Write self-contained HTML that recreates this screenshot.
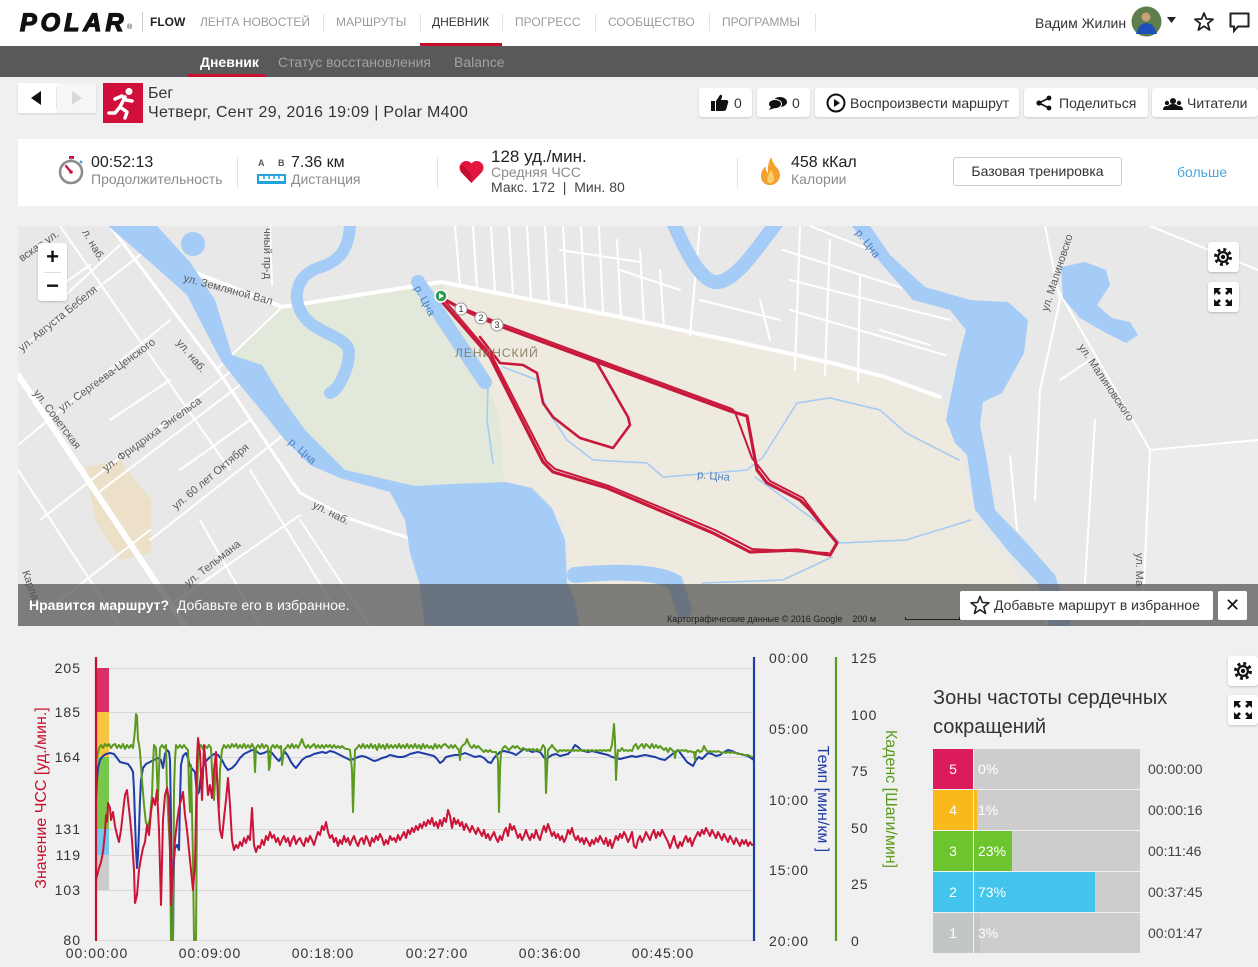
<!DOCTYPE html>
<html><head><meta charset="utf-8"><style>
*{margin:0;padding:0;box-sizing:border-box}
html,body{width:1258px;height:967px;overflow:hidden}
body{background:#f0f0f0;font-family:"Liberation Sans","DejaVu Sans",sans-serif;color:#333;position:relative}
.a{position:absolute}
.t{position:absolute;white-space:nowrap;line-height:20px;height:20px}
.nav{font-size:12px;color:#9b9b9b;top:12px}
.sep{position:absolute;top:14px;width:1px;height:17px;background:#e2e2e2}
.btn{position:absolute;top:88px;height:29px;background:#fff;border-radius:3px;box-shadow:0 1px 2px rgba(0,0,0,.15)}
.g{color:#8c8c8c;font-size:14px}
.zn{position:absolute;left:933px;width:40px;height:40px;color:#fff;font-size:14px;line-height:40px;text-align:center}
.zb{position:absolute;left:974px;width:166px;height:40px;background:#cdcdcd}
.zp{position:absolute;left:978px;color:#fff;font-size:14px;line-height:40px;height:40px}
.zt{position:absolute;left:1148px;color:#444;font-size:14px;line-height:40px;height:40px}
.ctl{position:absolute;background:#fff;border-radius:3px;box-shadow:0 1px 2px rgba(0,0,0,.2)}
</style></head><body>

<!-- top nav -->
<div class="a" style="left:0;top:0;width:1258px;height:46px;background:#fff"></div>
<div class="t" style="left:20px;top:10px;height:26px;line-height:26px;font-size:25px;font-weight:bold;font-style:italic;letter-spacing:4px;color:#111;-webkit-text-stroke:1.3px #111">POLAR</div>
<div class="t" style="left:127px;top:18px;font-size:7px;color:#111">®</div>
<div class="sep" style="left:142px;top:12px;height:20px;background:#ccc"></div>
<div class="t" style="left:150px;top:12px;font-size:12px;font-weight:bold;color:#222">FLOW</div>
<div class="t nav" style="left:200px">ЛЕНТА НОВОСТЕЙ</div>
<div class="sep" style="left:323px"></div>
<div class="t nav" style="left:336px">МАРШРУТЫ</div>
<div class="sep" style="left:420px"></div>
<div class="t nav" style="left:432px;color:#333">ДНЕВНИК</div>
<div class="sep" style="left:502px"></div>
<div class="t nav" style="left:515px">ПРОГРЕСС</div>
<div class="sep" style="left:595px"></div>
<div class="t nav" style="left:608px">СООБЩЕСТВО</div>
<div class="sep" style="left:709px"></div>
<div class="t nav" style="left:722px">ПРОГРАММЫ</div>
<div class="sep" style="left:815px"></div>
<div class="a" style="left:420px;top:43px;width:82px;height:4px;background:#c8102e"></div>

<div class="t" style="left:1035px;top:13px;font-size:14px;color:#333">Вадим Жилин</div>
<svg class="a" style="left:1131px;top:6px" width="31" height="31" viewBox="0 0 31 31">
<circle cx="15.5" cy="15.5" r="15" fill="#5e7f4c"/><circle cx="15" cy="11" r="4.5" fill="#c9a07a"/>
<path d="M5 28 Q8 17 15 17 Q23 17 26 28 Z" fill="#1f4fb8"/></svg>
<svg class="a" style="left:1167px;top:17px" width="10" height="8"><path d="M0 0 L9 0 L4.5 6 Z" fill="#222"/></svg>
<svg class="a" style="left:1194px;top:12px" width="20" height="19" viewBox="0 0 20 19"><path d="M10 1 L12.4 7 L19 7.3 L13.8 11.4 L15.6 18 L10 14.3 L4.4 18 L6.2 11.4 L1 7.3 L7.6 7 Z" fill="none" stroke="#222" stroke-width="1.8" stroke-linejoin="round"/></svg>
<svg class="a" style="left:1229px;top:12px" width="21" height="21" viewBox="0 0 21 21"><path d="M1.5 1.5 H19.5 V14.5 H9 L5 19 V14.5 H1.5 Z" fill="none" stroke="#222" stroke-width="2"/></svg>

<!-- sub nav -->
<div class="a" style="left:0;top:46px;width:1258px;height:31px;background:#58595b"></div>
<div class="t" style="left:200px;top:52px;font-size:14px;font-weight:bold;color:#fff">Дневник</div>
<div class="a" style="left:188px;top:74px;width:77px;height:3px;background:#c8102e"></div>
<div class="t" style="left:278px;top:52px;font-size:14px;color:#a2a2a2">Статус восстановления</div>
<div class="t" style="left:454px;top:52px;font-size:14px;color:#a2a2a2">Balance</div>

<!-- activity header -->
<div class="a" style="left:18px;top:83px;width:78px;height:30px;background:#fff;box-shadow:0 1px 2px rgba(0,0,0,.12)"></div>
<div class="a" style="left:57px;top:83px;width:39px;height:30px;background:#f6f6f6"></div>
<div class="a" style="left:56px;top:87px;width:1px;height:22px;background:#e5e5e5"></div>
<div class="a" style="left:31px;top:91px;width:0;height:0;border-top:7px solid transparent;border-bottom:7px solid transparent;border-right:10px solid #111"></div>
<div class="a" style="left:72px;top:91px;width:0;height:0;border-top:7px solid transparent;border-bottom:7px solid transparent;border-left:10px solid #d8d8d8"></div>
<svg class="a" style="left:103px;top:83px" width="40" height="40" viewBox="0 0 40 40">
<rect width="40" height="40" fill="#d0103a"/>
<g stroke="#fff" stroke-width="3.5" stroke-linecap="round" stroke-linejoin="round" fill="none">
<path d="M22 14 L17 24 L24 29 L22 35"/><path d="M17 24 L12 30 L6 30"/><path d="M12 16 L19 13 L23 17 L29 18"/></g>
<circle cx="26" cy="8.5" r="3.5" fill="#fff"/></svg>
<div class="t" style="left:148px;top:84px;font-size:16px;color:#333">Бег</div>
<div class="t" style="left:148px;top:103px;font-size:16px;color:#333;letter-spacing:0.3px">Четверг, Сент 29, 2016 19:09 | Polar M400</div>

<div class="btn" style="left:699px;width:53px"></div>
<svg class="a" style="left:710px;top:93px" width="19" height="19" viewBox="0 0 19 19"><path d="M1 8 H5 V18 H1 Z M6 8 L10 2 Q12 1 12 4 L11 7 H17 Q19 8 18 10 L16 17 Q15 18 13 18 H6 Z" fill="#111"/></svg>
<div class="t" style="left:734px;top:93px;font-size:14px">0</div>
<div class="btn" style="left:757px;width:53px"></div>
<svg class="a" style="left:768px;top:96px" width="20" height="14" viewBox="0 0 20 14"><ellipse cx="12" cy="6" rx="7" ry="5" fill="#111"/><ellipse cx="7" cy="8" rx="6.5" ry="4.6" fill="#111" stroke="#fff" stroke-width="1"/><path d="M3 11 L1 14 L7 12 Z" fill="#111"/></svg>
<div class="t" style="left:792px;top:93px;font-size:14px">0</div>
<div class="btn" style="left:815px;width:204px"></div>
<svg class="a" style="left:826px;top:93px" width="20" height="20" viewBox="0 0 20 20"><circle cx="10" cy="10" r="8.5" fill="none" stroke="#111" stroke-width="2"/><path d="M8 6 L14 10 L8 14 Z" fill="#111"/></svg>
<div class="t" style="left:850px;top:93px;font-size:14px;color:#333">Воспроизвести маршрут</div>
<div class="btn" style="left:1024px;width:124px"></div>
<svg class="a" style="left:1036px;top:95px" width="16" height="16" viewBox="0 0 16 16"><g stroke="#111" stroke-width="1.6"><line x1="3" y1="8" x2="13" y2="3"/><line x1="3" y1="8" x2="13" y2="13"/></g><circle cx="3" cy="8" r="2.6" fill="#111"/><circle cx="13" cy="3" r="2.4" fill="#111"/><circle cx="13" cy="13" r="2.4" fill="#111"/></svg>
<div class="t" style="left:1059px;top:93px;font-size:14px;color:#333">Поделиться</div>
<div class="btn" style="left:1152px;width:106px"></div>
<svg class="a" style="left:1163px;top:97px" width="20" height="13" viewBox="0 0 20 13"><circle cx="10" cy="4" r="3" fill="#111"/><path d="M4 13 Q4 7 10 7 Q16 7 16 13Z" fill="#111"/><circle cx="4" cy="6" r="2.2" fill="#111"/><path d="M0 13 Q0 9 4 9 Q6 9 6 13Z" fill="#111"/><circle cx="16" cy="6" r="2.2" fill="#111"/><path d="M14 13 Q14 9 16 9 Q20 9 20 13Z" fill="#111"/></svg>
<div class="t" style="left:1187px;top:93px;font-size:14px;color:#333">Читатели</div>

<!-- stats panel -->
<div class="a" style="left:18px;top:139px;width:1240px;height:67px;background:#fff"></div>
<svg class="a" style="left:56px;top:155px" width="30" height="30" viewBox="0 0 30 30">
<rect x="13" y="1" width="5" height="3" fill="#d0103a"/><rect x="14.5" y="3" width="2" height="3" fill="#999"/>
<circle cx="15" cy="17" r="11" fill="#fff" stroke="#8c8c8c" stroke-width="2.6"/>
<line x1="15" y1="17" x2="10" y2="11" stroke="#d0103a" stroke-width="2.2" stroke-linecap="round"/>
<circle cx="15" cy="17" r="1.8" fill="#d0103a"/><line x1="24" y1="6" x2="26" y2="8" stroke="#3aa0d8" stroke-width="2"/></svg>
<div class="t" style="left:91px;top:153px;font-size:16px;color:#222">00:52:13</div>
<div class="t g" style="left:91px;top:169px">Продолжительность</div>
<div class="a" style="left:237px;top:158px;width:1px;height:30px;background:#e3e3e3"></div>
<div class="t" style="left:258px;top:153px;font-size:9px;font-weight:bold;color:#555">A</div>
<div class="t" style="left:278px;top:153px;font-size:9px;font-weight:bold;color:#555">B</div>
<svg class="a" style="left:257px;top:174px" width="29" height="10" viewBox="0 0 29 10"><rect x="0" y="0" width="29" height="10" fill="#23a3dc"/><rect x="2" y="2" width="25" height="5" fill="#fff"/><g stroke="#23a3dc" stroke-width="1.5"><line x1="7" y1="2" x2="7" y2="5"/><line x1="12" y1="2" x2="12" y2="5"/><line x1="17" y1="2" x2="17" y2="5"/><line x1="22" y1="2" x2="22" y2="5"/></g></svg>
<div class="t" style="left:291px;top:153px;font-size:16px;color:#222">7.36 км</div>
<div class="t g" style="left:291px;top:169px">Дистанция</div>
<div class="a" style="left:437px;top:158px;width:1px;height:30px;background:#e3e3e3"></div>
<svg class="a" style="left:458px;top:159px" width="27" height="25" viewBox="0 0 27 25"><path d="M13.5 24 L3 13 A6 6 0 0 1 13.5 4.5 A6 6 0 0 1 24 13 Z" fill="#e3173e"/><path d="M13.5 24 L3 13 A6 6 0 0 1 5 6 L13.5 16 Z" fill="#c40f33"/></svg>
<div class="t" style="left:491px;top:147px;font-size:17px;color:#222">128 уд./мин.</div>
<div class="t g" style="left:491px;top:162px">Средняя ЧСС</div>
<div class="t" style="left:491px;top:177px;font-size:14px;color:#444">Макс. 172 &nbsp;|&nbsp; Мин. 80</div>
<div class="a" style="left:737px;top:158px;width:1px;height:30px;background:#e3e3e3"></div>
<svg class="a" style="left:760px;top:156px" width="21" height="30" viewBox="0 0 21 30"><path d="M11 1 Q13 8 18 13 Q22 19 18 25 Q14 30 8 29 Q1 27 1 20 Q1 14 6 10 Q5 15 8 17 Q7 9 11 1 Z" fill="#f3a12c"/><path d="M11 14 Q14 19 14 23 Q13 28 9 27 Q6 25 8 20 Q9 17 11 14 Z" fill="#fbd06a"/></svg>
<div class="t" style="left:791px;top:153px;font-size:16px;color:#222">458 кКал</div>
<div class="t g" style="left:791px;top:169px">Калории</div>
<div class="a" style="left:953px;top:157px;width:169px;height:29px;border:1px solid #cfcfcf;border-radius:3px;font-size:14px;line-height:27px;text-align:center;color:#333">Базовая тренировка</div>
<div class="t" style="left:1177px;top:162px;font-size:14px;color:#4ba6d9">больше</div>

<!-- map -->
<svg class="a" style="left:18px;top:226px" width="1240" height="400" viewBox="18 226 1240 400" font-family="Liberation Sans, sans-serif">
<rect x="18" y="226" width="1240" height="400" fill="#e8e8e8"/>
<polygon points="229,357 282,307 441,282 470,330 500,420 505,495 450,490 400,490 340,470 290,440 260,400" fill="#e3e9da"/>
<polygon points="441,282 620,317 742,343 832,363 885,377 940,397 955,440 965,470 980,530 1010,560 1040,626 575,626 565,520 505,495 500,420 470,330" fill="#eeeadf"/>
<polygon points="86,467 120,460 151,500 151,553 120,560 95,520" fill="#ede0c8"/>
<polygon points="1150,450 1258,440 1258,626 1140,626" fill="#ececec"/>
<!-- roads -->
<g stroke="#fff" fill="none" stroke-linecap="round">
<path d="M18,375 L185,626" stroke-width="6"/>
<path d="M171,263 L282,307 L441,282 L620,317 L742,343 L832,363 L885,377 L940,397" stroke-width="4"/>
<path d="M110,226 L217,369 L300,493 L350,519 L430,545" stroke-width="3"/>
<g stroke-width="2">
<path d="M18,350 L140,255 M18,445 L170,320 M40,520 L230,372 M95,495 L240,385 M150,540 L290,430 M170,605 L300,515 M60,226 L230,470 M18,470 L120,626 M200,520 L260,626 M250,470 L330,600 M120,245 L60,300 M300,520 L370,626 M217,369 L282,307 M270,226 L272,285 M60,600 L150,530 M110,420 L170,380 M40,300 L90,265 M180,470 L250,420"/>
<path d="M455,226 L460,285 M473,226 L477,288 M491,226 L495,292 M509,226 L513,296 M527,226 L531,299 M545,226 L549,303 M563,226 L567,306 M581,226 L585,310 M599,226 L603,314 M617,240 L621,317 M640,250 L644,322 M660,270 L664,326 M620,270 L680,290 M560,250 L640,262"/>
<path d="M783,250 L940,300 M790,280 L950,320 M790,310 L945,355 M800,226 L795,370 M830,240 L825,375 M860,275 L858,382 M700,300 L780,320 M690,335 L700,226 M760,300 L770,340 M880,330 L930,345 M810,226 L870,250"/>
<path d="M1058,290 L1150,450 L1258,440 M1150,450 L1142,626 M1045,226 L1060,300 L1040,390 L1035,500 M1150,226 L1258,270 M1010,456 L1017,530 M1095,420 L1085,583 M1025,600 L1050,626 M1060,380 L1090,360"/>
</g></g>
<!-- water -->
<g fill="#a5cbf7">
<polygon points="108,226 150,262 187,295 205,330 217,353 222,362 240,385 265,415 285,440 310,465 340,478 390,492 405,520 410,553 420,585 425,630 580,630 575,600 567,583 565,540 552,508 532,488 505,482 480,483 450,484 415,486 380,478 345,470 333,458 305,430 280,395 262,365 232,355 215,300 190,262 157,226"/>
<polygon points="852,226 880,262 913,300 950,310 966,330 958,360 953,385 946,420 955,443 967,455 975,510 1010,553 1038,583 1050,630 1072,630 1055,575 1024,540 995,510 986,455 980,425 983,402 1002,393 1024,353 1028,320 1008,302 970,300 925,287 890,255 870,226"/>
<polygon points="1061,267 1085,262 1106,270 1110,285 1097,305 1112,318 1130,322 1138,335 1126,343 1106,333 1080,318 1063,298"/>
<ellipse cx="193" cy="244" rx="12" ry="12"/>
</g>
<g stroke="#a5cbf7" fill="none" stroke-linecap="round">
<path d="M350,226 C348,252 338,262 318,268 C295,276 292,300 303,315 C315,334 348,336 349,352 C349,372 336,392 330,393" stroke-width="12"/>
<path d="M418,282 L485,382" stroke-width="14"/>
<path d="M673,222 C690,262 705,284 718,282 C736,280 756,250 777,222" stroke-width="14"/>
<path d="M575,575 Q650,568 675,582 L684,610" stroke-width="16"/>
<g stroke-width="1.6"><path d="M488,385 L487,420 L493,463"/><path d="M503,367 L537,380 L547,410 L567,440 L593,460 L647,463 L663,477 L713,473 L747,470 L763,457 L797,403 L830,398 L880,410 L906,433 L959,460"/><path d="M755,477 L791,503 L824,527 L840,543 L906,540 L971,520"/><path d="M832,557 L783,580 L702,583"/></g>
</g>
<!-- route -->
<g fill="none" stroke="#c8193c" stroke-linejoin="round" stroke-linecap="round">
<path stroke-width="3.2" d="M442,298 L462,309 L497,325 L597,362 L730,411 L747,416 L757,470 L767,483 L800,500 L810,510 L837,543 L830,555 L797,550 L750,552 L713,533 L607,488 L553,472 L543,462 L490,357 L443,303"/>
<path stroke-width="2" d="M444,300 L499,323 L599,360 L732,409 L735,412 L752,458 L770,481 L803,498 L835,541 M828,553 L752,549 L715,530 L609,486 L555,469 L546,461 L492,356 L445,301"/>
<path stroke-width="2.6" d="M480,337 L500,363 L523,365 L537,373 L543,403 L553,417 L580,438 L613,448 L630,425 L628,417 L597,363"/>
</g>
<g font-size="9" text-anchor="middle">
<circle cx="461" cy="309" r="6" fill="#fff" stroke="#999"/><text x="461" y="312" fill="#333">1</text>
<circle cx="481" cy="318" r="6" fill="#fff" stroke="#999"/><text x="481" y="321" fill="#333">2</text>
<circle cx="497" cy="325" r="6" fill="#fff" stroke="#999"/><text x="497" y="328" fill="#333">3</text>
</g>
<circle cx="441" cy="296" r="6" fill="#2e9b4e" stroke="#fff" stroke-width="1.5"/><path d="M439,293 L444,296 L439,299 Z" fill="#fff"/>
<!-- labels -->
<g font-size="11" fill="#5a5a5a">
<text transform="translate(22,262) rotate(-35)">вская ул.</text>
<text transform="translate(82,232) rotate(60)">л. наб.</text>
<text transform="translate(183,281) rotate(15)">ул. Земляной Вал</text>
<text transform="translate(264,228) rotate(90)">чный пр-д</text>
<text transform="translate(22,352) rotate(-39)">ул. Августа Бебеля</text>
<text transform="translate(62,412) rotate(-36)">ул. Сергеева-Ценского</text>
<text transform="translate(176,343) rotate(50)">ул. наб.</text>
<text transform="translate(33,393) rotate(53)">ул. Советская</text>
<text transform="translate(106,472) rotate(-36)">ул. Фридриха Энгельса</text>
<text transform="translate(176,510) rotate(-40)">ул. 60 лет Октября</text>
<text transform="translate(312,507) rotate(27)">ул. наб.</text>
<text transform="translate(188,587) rotate(-38)">ул. Тельмана</text>
<text transform="translate(1048,312) rotate(-72)">ул. Малиновско</text>
<text transform="translate(1078,347) rotate(56)">ул. Малиновского</text>
<text transform="translate(1136,553) rotate(90)">ул. Ма</text>
<text transform="translate(22,572) rotate(70)">Карла</text>
</g>
<g font-size="11" fill="#4a7fc1">
<text transform="translate(288,443) rotate(42)">р. Цна</text>
<text transform="translate(414,288) rotate(62)">р. Цна</text>
<text transform="translate(697,478) rotate(5)">р. Цна</text>
<text transform="translate(855,233) rotate(52)">р. Цна</text>
</g>
<text x="455" y="357" font-size="12" fill="#8a8266" letter-spacing="1">ЛЕНИНСКИЙ</text>
</svg>
<!-- map controls -->
<div class="ctl" style="left:38px;top:243px;width:29px;height:58px"></div>
<div class="a" style="left:44px;top:272px;width:17px;height:1px;background:#ddd"></div>
<div class="t" style="left:38px;top:247px;width:29px;text-align:center;font-size:22px;font-weight:bold;color:#111">+</div>
<div class="t" style="left:38px;top:276px;width:29px;text-align:center;font-size:22px;font-weight:bold;color:#111">−</div>
<div class="ctl" style="left:1208px;top:242px;width:31px;height:30px"></div>
<svg class="a" style="left:1213px;top:247px" width="20" height="20" viewBox="0 0 20 20"><circle cx="10" cy="10" r="7.5" fill="none" stroke="#111" stroke-width="3" stroke-dasharray="2.9 3"/><circle cx="10" cy="10" r="6" fill="#111"/><circle cx="10" cy="10" r="3.8" fill="#fff"/><circle cx="10" cy="10" r="2.2" fill="#111"/></svg>
<div class="ctl" style="left:1208px;top:282px;width:31px;height:30px"></div>
<svg class="a" style="left:1213px;top:287px" width="20" height="20" viewBox="0 0 20 20" fill="#111"><path d="M1 1 H8 L5.5 3.5 L8 6 L6 8 L3.5 5.5 L1 8 Z"/><path d="M19 1 V8 L16.5 5.5 L14 8 L12 6 L14.5 3.5 L12 1 Z"/><path d="M1 19 V12 L3.5 14.5 L6 12 L8 14 L5.5 16.5 L8 19 Z"/><path d="M19 19 H12 L14.5 16.5 L12 14 L14 12 L16.5 14.5 L19 12 Z"/></svg>
<!-- overlay -->
<div class="a" style="left:18px;top:584px;width:1240px;height:42px;background:rgba(82,82,82,0.72)"></div>
<div class="t" style="left:29px;top:595px;font-size:14px;color:#fff"><b>Нравится маршрут?</b>&nbsp; Добавьте его в избранное.</div>
<div class="t" style="left:667px;top:609px;font-size:9px;color:#222">Картографические данные © 2016 Google &nbsp;&nbsp; 200 м</div>
<div class="a" style="left:905px;top:617px;width:55px;height:3px;border:1px solid #222;border-top:none"></div>
<div class="a" style="left:960px;top:591px;width:253px;height:29px;background:#fff;border-radius:2px"></div>
<svg class="a" style="left:970px;top:595px" width="20" height="20" viewBox="0 0 20 19"><path d="M10 1 L12.4 7 L19 7.3 L13.8 11.4 L15.6 18 L10 14.3 L4.4 18 L6.2 11.4 L1 7.3 L7.6 7 Z" fill="none" stroke="#222" stroke-width="1.6" stroke-linejoin="round"/></svg>
<div class="t" style="left:994px;top:595px;font-size:14px;color:#333">Добавьте маршрут в избранное</div>
<div class="a" style="left:1218px;top:591px;width:29px;height:29px;background:#fff;border-radius:2px;font-size:18px;font-weight:bold;line-height:29px;text-align:center;color:#111">✕</div>

<!-- chart -->
<svg class="a" style="left:0;top:640px" width="920" height="327" viewBox="0 640 920 327" font-family="Liberation Sans, sans-serif">
<g stroke="#d8d8d8" stroke-width="1">
<line x1="96" y1="668.5" x2="754" y2="668.5"/><line x1="96" y1="712.5" x2="754" y2="712.5"/><line x1="96" y1="757.5" x2="754" y2="757.5"/><line x1="96" y1="829.5" x2="754" y2="829.5"/><line x1="96" y1="855.5" x2="754" y2="855.5"/><line x1="96" y1="890.5" x2="754" y2="890.5"/><line x1="96" y1="940.5" x2="754" y2="940.5"/>
</g>
<rect x="97" y="668" width="12" height="44" fill="#d93167"/>
<rect x="97" y="712" width="12" height="45" fill="#f7c542"/>
<rect x="97" y="757" width="12" height="72" fill="#77c84a"/>
<rect x="97" y="829" width="12" height="26" fill="#72c8ee"/>
<rect x="97" y="855" width="12" height="35" fill="#cbcbcb"/>
<g fill="none" stroke-width="2" stroke-linejoin="round">
<polyline stroke="#1f3da6" points="96,800 97,780 98,768 100,760 103,756 106,754 110,753 114,754 117,758 120,762 124,763 128,764 131,768 133,772 134,790 135,820 136,850 137,868 138,855 139,830 140,800 141,780 143,768 146,764 150,762 154,760 158,758 161,760 163,768 165,754 167,750 169,752 170,760 171,820 172,940 173,940 174,860 175,848 177,845 179,850 180,800 181,765 183,756 186,753 188,758 190,766 193,770 195,772 197,795 199,792 201,775 204,764 207,760 210,757 214,754 218,755 222,760 225,766 228,770 232,768 236,764 240,758 244,754 248,752 252,750 256,751 260,754 264,753 268,751 272,753 276,758 279,761 282,756 285,752 288,756 291,762 294,766 296,768 299,764 302,760 306,757 310,756 314,754 318,753 322,752 326,753 330,751 334,752 338,754 342,756 346,758 350,760 354,759 358,757 362,756 366,757 370,759 374,761 378,760 382,758 386,757 390,755 394,756 398,757 402,757 406,756 410,754 414,753 418,752 422,753 426,754 430,755 434,756 437,759 440,763 443,761 446,757 450,756 455,755 460,755 465,753 470,755 475,757 480,756 484,758 488,762 491,763 494,758 497,755 500,752 504,751 508,752 512,753 516,755 520,752 524,749 528,750 532,752 536,751 540,752 543,756 546,760 549,757 552,755 556,754 560,756 564,755 568,754 572,750 575,745 578,747 581,750 584,751 588,752 592,751 596,752 600,753 604,754 608,755 612,757 616,758 620,759 624,758 628,757 632,756 636,757 640,756 645,755 650,756 655,757 660,759 665,760 670,756 675,752 678,750 681,754 684,758 687,762 690,764 693,766 696,760 699,757 702,759 705,756 708,753 712,754 716,756 720,755 724,752 728,750 732,751 736,753 740,754 744,755 748,756 751,758 754,760"/>
<polyline stroke="#5b9a1f" points="97,758 99,748 101,745 103,748 105,744 107,746 109,744 111,748 113,745 115,744 117,748 119,745 121,748 123,744 125,749 127,745 129,748 131,745 133,748 135,730 136,714 137,716 138,740 139,744 140,752 142,780 144,805 146,823 148,826 150,818 152,795 153,765 154,745 156,748 158,800 159,770 160,748 162,745 164,748 166,745 167,790 168,812 170,850 171,940 173,940 174,790 175,760 176,745 178,748 180,745 182,748 184,745 186,748 188,750 189,790 190,812 191,765 193,860 194,940 196,940 197,800 198,760 199,748 201,745 203,749 205,746 207,748 209,745 211,748 212,770 214,800 216,765 218,790 219,808 220,770 222,750 224,745 226,748 228,745 230,748 232,744 234,747 236,744 238,748 240,745 242,748 244,744 246,748 248,745 250,748 252,744 254,748 255,772 256,748 258,745 260,748 262,744 264,748 266,745 268,747 269,770 270,765 271,748 273,745 275,748 277,745 279,748 281,746 282,765 284,750 286,748 288,745 290,748 292,744 294,748 296,745 298,748 300,744 302,739 304,745 306,748 308,745 310,748 312,746 314,744 316,748 318,745 320,748 322,745 324,748 326,745 328,747 330,745 332,748 334,745 336,748 338,746 340,748 342,746 344,748 346,749 348,749 350,750 352,770 353,812 354,780 355,750 357,748 359,745 361,748 363,744 365,748 367,745 369,748 371,744 373,748 375,745 377,750 379,744 381,748 383,745 385,749 387,744 389,748 391,745 393,748 395,745 397,748 399,744 401,748 403,745 405,748 407,744 409,748 411,745 413,748 415,744 417,748 419,745 421,749 423,744 425,748 427,745 429,748 431,746 433,749 435,744 437,748 439,745 441,748 443,745 445,744 447,746 449,748 451,745 453,748 455,745 457,748 459,750 460,760 461,748 463,745 465,744 467,739 468,742 470,746 472,748 474,745 476,748 478,746 480,748 482,750 484,752 486,750 488,752 490,750 492,752 494,752 496,752 498,760 499,812 500,770 501,752 503,748 505,746 507,748 509,750 511,748 513,746 515,748 517,746 519,748 521,750 523,748 525,749 527,751 529,749 531,750 533,749 535,751 537,749 539,751 541,750 543,745 545,748 546,793 547,770 548,750 550,748 552,745 554,748 556,750 558,752 560,750 562,751 564,750 566,751 568,750 570,751 572,750 574,751 576,750 578,751 580,750 582,751 584,750 586,751 588,750 590,751 592,750 594,751 596,750 598,751 600,750 602,751 604,750 606,751 608,750 610,751 612,745 613,735 614,724 615,740 616,780 617,760 618,750 620,751 622,748 624,751 626,750 628,751 630,750 632,751 634,746 636,744 638,749 640,746 642,744 644,748 646,744 648,746 650,748 652,744 654,748 656,745 658,748 660,746 662,748 664,750 666,748 668,752 670,748 672,750 674,752 675,758 676,752 678,750 680,751 682,750 684,751 686,750 688,752 690,751 692,752 694,752 695,760 696,752 698,750 700,752 702,751 704,746 706,750 708,752 710,751 712,752 714,751 716,752 718,751 720,752 722,753 724,752 726,753 728,752 730,753 732,752 734,753 736,753 738,754 740,754 742,754 744,755 746,755 748,755 750,756 752,757 754,757"/>
<polyline stroke="#cc1438" points="96,880 99,868 101,862 103,852 105,832 106,815 107,822 108,803 110,808 111,820 113,812 115,826 117,835 119,842 121,830 123,812 125,795 127,790 128,800 130,818 132,840 134,870 135,903 137,895 139,870 141,858 143,848 145,842 147,825 149,835 151,812 153,798 155,805 157,790 159,830 161,905 163,820 165,795 167,788 169,800 171,905 173,870 175,840 177,822 179,808 181,800 183,792 185,815 187,830 189,850 191,870 193,890 195,865 197,760 198,738 200,752 202,800 204,745 206,768 208,795 210,785 212,798 214,770 216,752 218,800 220,830 222,838 224,818 226,800 228,778 230,805 232,840 234,850 236,845 238,848 240,842 242,846 244,838 246,843 248,836 250,840 252,808 254,845 256,852 258,846 260,848 262,840 264,845 266,836 268,840 270,832 272,838 274,835 276,842 278,838 280,845 282,840 284,836 286,842 288,838 290,846 292,840 294,836 296,844 298,840 300,838 302,843 304,846 306,838 308,842 310,836 312,840 314,845 316,838 318,832 320,835 322,826 324,830 326,822 328,832 330,838 332,835 334,842 336,838 338,846 340,840 342,844 344,836 346,842 348,838 350,845 352,840 354,836 356,842 358,846 360,840 362,838 364,844 366,836 368,840 370,846 372,838 374,842 376,836 378,840 380,834 382,838 384,845 386,840 388,844 390,836 392,840 394,838 396,842 398,835 400,840 402,836 404,832 406,838 408,830 410,834 412,828 414,832 416,826 418,830 420,824 422,828 424,822 426,826 428,820 430,824 432,818 434,826 436,822 438,828 440,820 442,826 444,818 446,822 448,810 450,816 452,828 454,818 456,824 458,820 460,826 462,822 464,830 466,824 468,828 470,832 472,826 474,830 476,834 478,828 480,832 482,836 484,830 486,838 488,834 490,840 492,836 494,832 496,838 498,842 500,836 502,840 504,832 506,828 508,836 510,824 512,830 514,826 516,832 518,838 520,834 522,840 524,836 526,830 528,836 530,840 532,834 534,838 536,830 538,836 540,840 542,832 544,826 546,832 548,824 550,830 552,836 554,832 556,838 558,834 560,840 562,836 564,842 566,838 568,830 570,834 572,828 574,836 576,840 578,836 580,842 582,838 584,844 586,838 588,842 590,846 592,840 594,844 596,838 598,842 600,836 602,840 604,844 606,838 608,846 610,840 612,848 614,842 616,836 618,840 620,834 622,838 624,832 626,836 628,842 630,838 632,832 634,846 636,848 638,840 640,836 642,842 644,838 646,832 648,836 650,840 652,834 654,830 656,838 658,832 660,836 662,830 664,834 666,838 668,842 670,848 672,842 674,836 676,844 678,848 680,842 682,846 684,840 686,836 688,842 690,838 692,846 694,840 696,836 698,832 700,836 702,830 704,834 706,828 708,832 710,836 712,830 714,834 716,838 718,832 720,836 722,840 724,834 726,838 728,842 730,836 732,840 734,844 736,838 738,842 740,846 742,840 744,844 746,840 748,846 750,842 752,845 754,844"/>
</g>
<line x1="96" y1="657" x2="96" y2="941" stroke="#c8102e" stroke-width="2.2"/>
<line x1="754" y1="657" x2="754" y2="941" stroke="#1f3da6" stroke-width="2.2"/>
<line x1="836" y1="657" x2="836" y2="941" stroke="#5b9a1f" stroke-width="2.2"/>
<g font-size="14" fill="#333" letter-spacing="1" text-anchor="end">
<text x="81" y="673">205</text><text x="81" y="717">185</text><text x="81" y="762">164</text><text x="81" y="834">131</text><text x="81" y="860">119</text><text x="81" y="895">103</text><text x="81" y="945">80</text>
</g>
<g font-size="14" fill="#333" letter-spacing="1" text-anchor="middle">
<text x="97" y="958">00:00:00</text><text x="210" y="958">00:09:00</text><text x="323" y="958">00:18:00</text><text x="437" y="958">00:27:00</text><text x="550" y="958">00:36:00</text><text x="663" y="958">00:45:00</text>
</g>
<g font-size="14" fill="#333" letter-spacing="1">
<text x="769" y="663">00:00</text><text x="769" y="734">05:00</text><text x="769" y="805">10:00</text><text x="769" y="875">15:00</text><text x="769" y="946">20:00</text>
<text x="851" y="663">125</text><text x="851" y="720">100</text><text x="851" y="776">75</text><text x="851" y="833">50</text><text x="851" y="889">25</text><text x="851" y="946">0</text>
</g>
<text transform="translate(46,798) rotate(-90)" text-anchor="middle" font-size="16" fill="#c8102e">Значение ЧСС [уд./мин.]</text>
<text transform="translate(818,799) rotate(90)" text-anchor="middle" font-size="16" fill="#1f3da6">Темп [мин/км ]</text>
<text transform="translate(886,799) rotate(90)" text-anchor="middle" font-size="16" fill="#5b9a1f">Каденс [Шаги/мин]</text>
</svg>

<!-- chart controls -->
<div class="ctl" style="left:1228px;top:656px;width:30px;height:30px"></div>
<svg class="a" style="left:1233px;top:661px" width="20" height="20" viewBox="0 0 20 20"><circle cx="10" cy="10" r="7.5" fill="none" stroke="#111" stroke-width="3" stroke-dasharray="2.9 3"/><circle cx="10" cy="10" r="6" fill="#111"/><circle cx="10" cy="10" r="3.8" fill="#fff"/><circle cx="10" cy="10" r="2.2" fill="#111"/></svg>
<div class="ctl" style="left:1228px;top:695px;width:30px;height:30px"></div>
<svg class="a" style="left:1233px;top:700px" width="20" height="20" viewBox="0 0 20 20" fill="#111"><path d="M1 1 H8 L5.5 3.5 L8 6 L6 8 L3.5 5.5 L1 8 Z"/><path d="M19 1 V8 L16.5 5.5 L14 8 L12 6 L14.5 3.5 L12 1 Z"/><path d="M1 19 V12 L3.5 14.5 L6 12 L8 14 L5.5 16.5 L8 19 Z"/><path d="M19 19 H12 L14.5 16.5 L12 14 L14 12 L16.5 14.5 L19 12 Z"/></svg>

<!-- HR zones -->
<div class="a" style="left:933px;top:684px;font-size:20px;line-height:29px;color:#333;white-space:nowrap">Зоны частоты сердечных<br>сокращений</div>
<div class="zn" style="top:749px;background:#dc1a5e">5</div><div class="zb" style="top:749px"></div><div class="zp" style="top:749px">0%</div><div class="zt" style="top:749px">00:00:00</div>
<div class="zn" style="top:790px;background:#f9b91c">4</div><div class="zb" style="top:790px"></div><div class="a" style="left:974px;top:790px;width:3px;height:40px;background:#f9b91c"></div><div class="zp" style="top:790px">1%</div><div class="zt" style="top:790px">00:00:16</div>
<div class="zn" style="top:831px;background:#6cc52e">3</div><div class="zb" style="top:831px"></div><div class="a" style="left:974px;top:831px;width:38px;height:40px;background:#6cc52e"></div><div class="zp" style="top:831px">23%</div><div class="zt" style="top:831px">00:11:46</div>
<div class="zn" style="top:872px;background:#42c4ec">2</div><div class="zb" style="top:872px"></div><div class="a" style="left:974px;top:872px;width:121px;height:40px;background:#42c4ec"></div><div class="zp" style="top:872px">73%</div><div class="zt" style="top:872px">00:37:45</div>
<div class="zn" style="top:913px;background:#c2c6c6">1</div><div class="zb" style="top:913px"></div><div class="a" style="left:974px;top:913px;width:6px;height:40px;background:#c2c6c6"></div><div class="zp" style="top:913px">3%</div><div class="zt" style="top:913px">00:01:47</div>

</body></html>
